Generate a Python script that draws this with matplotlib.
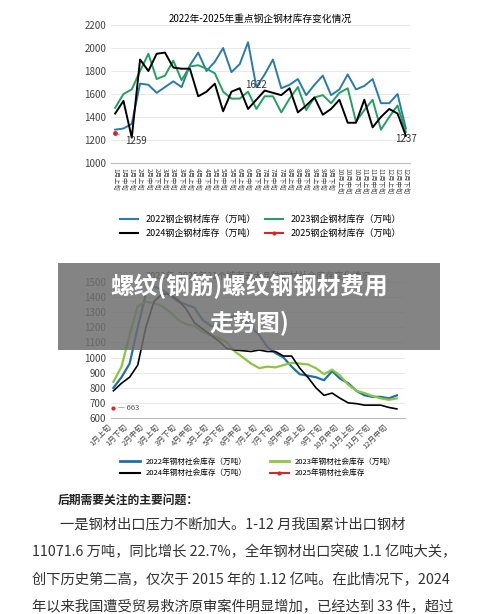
import matplotlib.pyplot as plt
from matplotlib.patches import Rectangle
import numpy as np

plt.rcParams['font.family'] = ['Noto Sans CJK SC', 'DejaVu Sans']

months = [f"{m}月{p}" for m in range(1, 13) for p in ["上旬", "中旬", "下旬"]]

# top chart: key steel companies inventory
steel_2022 = [1290, 1300, 1340, 1690, 1680, 1610, 1660, 1710, 1660, 1850, 1960, 1800,
              1880, 2000, 1790, 1860, 2050, 1660, 1770, 1900, 1650, 1680, 1730, 1590,
              1680, 1760, 1590, 1640, 1770, 1640, 1670, 1730, 1520, 1520, 1600, 1300]
steel_2023 = [1480, 1600, 1640, 1800, 1950, 1730, 1760, 1890, 1720, 1840, 1850, 1820,
              1780, 1620, 1560, 1560, 1620, 1470, 1580, 1580, 1440, 1560, 1660, 1460,
              1570, 1590, 1520, 1610, 1650, 1360, 1460, 1550, 1290, 1400, 1500, 1270]
steel_2024 = [1430, 1540, 1220, 1900, 1800, 1950, 1960, 1830, 1820, 1820, 1580, 1620,
              1690, 1450, 1620, 1650, 1470, 1550, 1630, 1610, 1590, 1650, 1440, 1500,
              1570, 1420, 1470, 1550, 1350, 1350, 1550, 1310, 1400, 1470, 1430, 1237]
steel_2025 = [1259]

# bottom chart: social inventory in 21 cities
social_2022 = [800, 870, 960, 1200, 1420, 1470, 1450, 1410, 1370, 1350, 1330, 1250,
               1210, 1210, 1250, 1280, 1250, 1200, 1150, 1070, 1030, 1000, 940, 890,
               880, 870, 850, 910, 860, 830, 780, 750, 740, 740, 730, 750]
social_2023 = [840, 940, 1150, 1340, 1370, 1360, 1340, 1300, 1250, 1220, 1210, 1170,
               1150, 1130, 1100, 1040, 1000, 960, 930, 940, 935, 950, 965, 960,
               955, 930, 890, 920, 880, 820, 780, 765, 745, 730, 720, 730]
social_2024 = [780, 830, 870, 950, 1200, 1370, 1420, 1420, 1380, 1320, 1230, 1190,
               1150, 1110, 1060, 1050, 1045, 1040, 1050, 1040, 1040, 1010, 1010, 930,
               870, 800, 750, 765, 730, 700, 695, 685, 685, 685, 670, 660]
social_2025 = [663]

W, H = 500, 614
fig = plt.figure(figsize=[W / 100, H / 100], dpi=100)


def box(x0, y0, x1, y1):
    return [x0 / W, 1 - y1 / H, (x1 - x0) / W, (y1 - y0) / H]


def style(ax):
    for s in ['top', 'right', 'left']:
        ax.spines[s].set_visible(False)
    ax.spines['bottom'].set_color('#bbbbbb')
    ax.grid(axis='y', color='#e4e4e4', lw=0.6)
    ax.set_axisbelow(True)
    ax.tick_params(axis='y', length=0, labelsize=7, colors='#444444')
    ax.tick_params(axis='x', length=0, colors='#444444')


x = np.arange(36)

# ---- top chart
ax1 = fig.add_axes(box(111, 25, 410, 163))
style(ax1)
ax1.plot(x, steel_2022, color='#2a7ab0', lw=1.4)
ax1.plot(x, steel_2023, color='#22a060', lw=1.4)
ax1.plot(x, steel_2024, color='black', lw=1.4)
ax1.plot([0], steel_2025, color='#d62728', marker='o', ms=2.5)
ax1.annotate('1259', (0, 1259), xytext=(1.2, 1165), fontsize=7, color='#333333',
             arrowprops=dict(arrowstyle='-', color='#888888', lw=0.5))
ax1.text(17, 1650, '1622', fontsize=7, color='#333333', ha='center')
ax1.text(35, 1180, '1237', fontsize=7, color='#333333', ha='center')
ax1.set_ylim(1000, 2200)
ax1.set_yticks(range(1000, 2201, 200))
ax1.set_xlim(-0.5, 35.5)
ax1.set_xticks(x)
ax1.set_xticklabels(months, rotation=-90, fontsize=4.6)
ax1.set_title('2022年-2025年重点钢企钢材库存变化情况', fontsize=7, pad=2)
ax1.legend([plt.Line2D([], [], color='#2a7ab0'), plt.Line2D([], [], color='black'),
            plt.Line2D([], [], color='#22a060'),
            plt.Line2D([], [], color='#d62728', marker='o', ms=2)],
           ['2022钢企钢材库存（万吨）', '2024钢企钢材库存（万吨）',
            '2023钢企钢材库存（万吨）', '2025钢企钢材库存（万吨）'],
           ncol=2, fontsize=6.5, frameon=False, loc='upper center',
           bbox_to_anchor=(0.5, -0.32), handlelength=2, columnspacing=1)

# ---- bottom chart
ax2 = fig.add_axes(box(111, 282, 405, 418))
style(ax2)
ax2.plot(x, social_2022, color='#1f6fa8', lw=1.6)
ax2.plot(x, social_2023, color='#8cc63f', lw=1.6)
ax2.plot(x, social_2024, color='black', lw=1.2)
ax2.plot([0], social_2025, color='#d62728', marker='o', ms=2)
ax2.text(0.6, 663, '— 663', fontsize=5.5, color='#555555', va='center')
ax2.set_ylim(600, 1500)
ax2.set_yticks(range(600, 1501, 100))
ax2.set_xlim(-0.3, 36)
ax2.set_xticks(x[::2])
ax2.set_xticklabels(months[::2], rotation=45, ha='right', fontsize=5.5)
ax2.set_title('2022年-2025年21个城市五大品种钢材社会库存变化情况', fontsize=6.5, pad=2)
ax2.legend([plt.Line2D([], [], color='#1f6fa8', lw=2), plt.Line2D([], [], color='black'),
            plt.Line2D([], [], color='#8cc63f', lw=2),
            plt.Line2D([], [], color='#d62728', marker='o', ms=2)],
           ['2022年钢材社会库存（万吨）', '2024年钢材社会库存（万吨）',
            '2023年钢材社会库存（万吨）', '2025年钢材社会库存'],
           ncol=2, fontsize=5.5, frameon=False, loc='upper center',
           bbox_to_anchor=(0.5, -0.24), handlelength=2.5, columnspacing=3)

# ---- banner overlay
fig.patches.append(Rectangle((58 / W, 1 - 350 / H), 382 / W, 87 / H, transform=fig.transFigure,
                             facecolor='#6e6e6e', alpha=0.85, edgecolor='none', zorder=10))
fig.text(249 / W, 1 - 286 / H, '螺纹(钢筋)螺纹钢钢材费用', fontsize=17, color='white',
         fontweight='bold', ha='center', va='center', zorder=11)
fig.text(249 / W, 1 - 323 / H, '走势图)', fontsize=17, color='white',
         fontweight='bold', ha='center', va='center', zorder=11)

# ---- text block
fig.text(58 / W, 1 - 500 / H, '后期需要关注的主要问题：', fontsize=8.5, fontweight='bold',
         va='center', color='#222222')
lines = ['一是钢材出口压力不断加大。1-12 月我国累计出口钢材',
         '11071.6 万吨，同比增长 22.7%，全年钢材出口突破 1.1 亿吨大关，',
         '创下历史第二高，仅次于 2015 年的 1.12 亿吨。在此情况下，2024',
         '年以来我国遭受贸易救济原审案件明显增加，已经达到 33 件，超过']
ys = [524, 552, 580, 607]
xs = [60, 32, 32, 32]
for t, yy, xx in zip(lines, ys, xs):
    fig.text(xx / W, 1 - yy / H, t, fontsize=10.3, va='center', color='#333333')

plt.savefig('out.png', dpi=100)
